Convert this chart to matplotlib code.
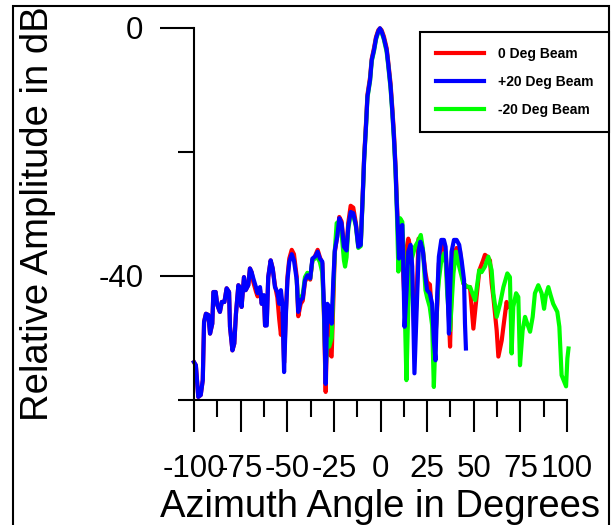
import matplotlib
matplotlib.use("Agg")
import matplotlib.pyplot as plt
from matplotlib.patches import Rectangle

plt.rcParams['font.family'] = ['Liberation Sans', 'DejaVu Sans']
plt.rcParams['axes.unicode_minus'] = False

# beam patterns (azimuth in degrees, relative amplitude in dB)
blue_deg = [-100, -99, -97.7, -96.4, -95.3, -94.6, -93.6, -92.3, -91.4, -90.2,
            -89.6, -88.4, -87.5, -86.1, -85.1, -83.7, -82.5, -81.2, -80.7, -79.4,
            -78.4, -77.5, -76.2, -75.3, -74.5, -73.2, -72.3, -70.9, -70.0, -69.1,
            -68.2, -66.8, -65.9, -64.6, -63.7, -62.5, -61.9, -61.0, -60.2, -58.9,
            -57.8, -56.6, -55.3, -54.3, -53.4, -52.6, -51.7, -50.7, -49.9, -48.9,
            -47.6, -46.4, -44.9, -44.1, -42.8, -41.7, -40.5, -39.2, -37.7, -36.5,
            -35.1, -33.7, -32.5, -31.2, -30.3, -29.4, -28.5, -27.5, -26.2, -25.3,
            -24.5, -23.2, -22.1, -20.9, -19.6, -18.2, -17.3, -16.0, -14.6, -13.2,
            -11.9, -10.6, -9.6, -9.2, -8.8, -7.7, -7.0, -5.6, -4.7, -3.5,
            -2.4, -1.2, -0.3, 0.6, 1.8, 3.3, 4.1, 5.4, 6.3, 7.2,
            8.1, 8.7, 9.1, 9.9, 10.8, 11.7, 12.2, 12.9, 14.0, 14.9,
            16.1, 17.0, 18.2, 19.3, 20.5, 21.4, 22.7, 24.1, 25.0, 26.4,
            27.7, 28.6, 29.5, 30.4, 31.3, 32.6, 34.0, 34.9, 35.8, 36.7,
            37.3, 38.1, 39.4, 40.8, 42.2, 43.5, 44.8, 45.3, 45.8]
blue_db = [-53.9, -54.4, -59.5, -59.2, -56.8, -47.4, -46.1, -46.3, -49.3, -47.7,
           -42.6, -42.6, -44.7, -45.8, -44.2, -44.2, -42.0, -42.6, -48.2, -52.0,
           -50.9, -46.1, -41.5, -42.0, -45.0, -40.2, -42.3, -41.5, -38.8, -39.4,
           -40.4, -41.8, -42.8, -41.8, -44.5, -43.1, -48.0, -48.0, -40.2, -37.5,
           -38.8, -41.8, -42.6, -44.5, -42.3, -44.5, -55.5, -46.1, -40.7, -37.7,
           -36.5, -37.5, -40.7, -45.8, -43.9, -43.6, -40.7, -39.9, -40.4, -37.2,
           -36.9, -36.1, -37.2, -37.7, -45.0, -57.4, -44.5, -45.0, -47.7, -40.7,
           -35.9, -33.7, -30.7, -31.5, -35.3, -35.9, -32.1, -29.7, -29.9, -31.8,
           -35.3, -35.0, -27.8, -24.6, -21.3, -15.4, -11.1, -8.4, -5.2, -3.6,
           -1.7, -0.6, -0.1, -0.6, -1.7, -3.6, -5.7, -9.5, -13.3, -17.6,
           -23.0, -28.3, -31.0, -37.2, -32.1, -31.8, -38.0, -48.2, -42.3, -36.1,
           -35.0, -38.5, -55.7, -46.1, -35.9, -34.5, -35.9, -40.2, -42.3, -42.8,
           -44.5, -50.4, -53.6, -43.4, -36.9, -34.2, -34.2, -35.3, -40.7, -49.3,
           -42.3, -36.1, -34.2, -34.2, -35.0, -37.5, -40.7, -47.7, -51.7]

red_deg = [-100, -99, -97.7, -96.4, -95.3, -94.6, -93.6, -92.3, -91.4, -90.2,
           -89.6, -88.4, -87.5, -86.1, -85.1, -83.7, -82.5, -81.2, -80.7, -79.4,
           -78.4, -77.5, -76.2, -75.3, -74.5, -73.2, -72.3, -70.9, -70.0, -69.1,
           -68.2, -66.8, -65.9, -64.6, -63.7, -62.5, -61.9, -61.0, -60.2, -58.9,
           -57.8, -56.6, -55.3, -54.3, -53.4, -52.6, -51.7, -50.7, -49.9, -48.9,
           -47.6, -46.4, -44.9, -44.1, -42.8, -41.7, -40.5, -39.2, -37.7, -36.5,
           -35.1, -33.7, -32.5, -31.2, -30.3, -29.4, -28.5, -27.5, -26.2, -25.3,
           -24.5, -23.2, -22.1, -20.9, -19.6, -18.2, -17.3, -16.0, -14.6, -13.2,
           -11.9, -10.6, -9.6, -9.2, -8.8, -7.7, -7.0, -5.6, -4.7, -3.5,
           -2.4, -1.2, -0.3, 0.6, 1.8, 3.3, 4.1, 5.4, 6.3, 7.2,
           8.1, 8.7, 9.1, 9.9, 10.8, 11.7, 12.2, 12.9, 14.0, 14.9,
           16.1, 17.0, 18.2, 19.3, 20.4, 21.4, 22.7, 24.1, 25.0, 26.5,
           28.0, 29.2, 30.4, 31.3, 32.6, 34.0, 35.0, 35.8, 36.7, 37.3,
           38.1, 39.4, 40.8, 42.6, 44.4, 46.5, 48.0, 49.8, 51.5, 53.0,
           55.0, 56.0, 57.2, 58.7, 59.6, 60.5, 62.3, 63.2, 65.0, 65.9,
           67.6, 68.5]
red_db = [-53.9, -54.4, -59.5, -59.2, -56.8, -47.4, -46.1, -46.3, -49.3, -47.7,
          -42.6, -42.6, -44.7, -45.8, -44.2, -44.2, -42.0, -42.6, -48.2, -52.0,
          -50.9, -46.1, -41.5, -42.0, -45.0, -40.2, -42.3, -41.5, -38.8, -39.4,
          -41.0, -42.5, -43.3, -42.2, -44.5, -43.6, -48.0, -47.5, -40.2, -37.5,
          -38.8, -41.5, -43.5, -47.0, -49.5, -46.0, -54.0, -45.5, -40.2, -37.2,
          -35.8, -36.5, -40.2, -46.5, -44.5, -44.0, -41.0, -40.0, -40.6, -37.4,
          -36.8, -35.8, -37.0, -38.0, -46.5, -58.7, -47.0, -52.5, -53.0, -44.0,
          -36.2, -33.5, -30.5, -31.2, -35.0, -35.6, -31.5, -28.7, -29.0, -31.5,
          -35.0, -34.8, -27.5, -24.3, -21.0, -15.0, -10.8, -8.0, -5.0, -3.3,
          -1.5, -0.4, -0.1, -0.4, -1.4, -3.3, -5.4, -9.0, -12.8, -17.0,
          -22.5, -27.5, -30.5, -36.0, -33.0, -33.5, -40.0, -44.0, -35.5, -34.0,
          -35.5, -40.0, -50.0, -44.0, -34.0, -34.5, -35.8, -39.5, -41.0, -41.4,
          -48.0, -51.4, -45.0, -38.0, -35.5, -35.0, -36.5, -41.0, -47.0, -51.4,
          -42.0, -36.5, -35.5, -35.9, -41.2, -41.8, -41.8, -48.5, -43.4, -39.1,
          -37.5, -36.6, -36.9, -37.5, -41.2, -43.4, -48.8, -53.0, -50.4, -48.2,
          -44.2, -45.0]

green_deg = [-44.9, -44.1, -42.8, -41.7, -40.5, -39.2, -37.7, -36.5, -35.1, -33.7,
             -32.5, -31.2, -30.3, -29.4, -28.5, -27.5, -26.2, -25.3, -24.5, -23.5,
             -22.1, -20.9, -19.6, -19.0, -18.2, -17.3, -16.0, -14.6, -13.2, -11.9,
             -10.6, -9.6, -9.2, -8.8, -7.7, -7.0, -5.6, -4.7, -3.5, -2.4,
             -1.2, -0.3, 0.6, 1.8, 3.3, 4.1, 5.4, 6.3, 7.2, 8.1,
             8.7, 9.6, 10.5, 11.7, 12.2, 13.9, 14.9, 16.1, 17.0, 18.5,
             20.0, 21.6, 22.7, 24.1, 25.0, 26.4, 27.7, 28.6, 29.5, 30.4,
             31.3, 32.6, 34.0, 35.0, 35.8, 37.3, 39.1, 40.5, 42.2, 44.4,
             46.2, 48.0, 50.7, 52.9, 54.2, 56.0, 57.8, 59.6, 60.5, 62.3,
             64.1, 65.9, 68.0, 69.4, 70.3, 71.2, 72.7, 73.9, 74.8, 76.2,
             77.5, 78.7, 80.2, 81.6, 82.8, 84.6, 86.4, 87.7, 88.7, 90.0,
             91.2, 92.6, 94.8, 95.9, 97.1, 99.5, 100.2, 100.8]
green_db = [-40.7, -45.0, -43.5, -43.0, -40.2, -39.5, -40.4, -37.5, -37.2, -37.0,
            -37.8, -39.5, -46.0, -55.0, -50.0, -51.4, -50.0, -42.0, -36.0, -31.5,
            -31.2, -33.0, -37.5, -38.5, -37.0, -32.5, -30.0, -30.2, -32.0, -35.5,
            -35.2, -28.0, -24.8, -21.5, -15.6, -11.3, -8.6, -5.4, -3.8, -1.9,
            -0.7, -0.2, -0.7, -1.9, -3.9, -6.0, -9.8, -13.6, -18.0, -23.5,
            -28.8, -39.3, -30.7, -31.3, -35.0, -56.8, -45.0, -38.0, -37.0, -35.3,
            -34.5, -33.4, -35.5, -42.3, -43.5, -45.0, -48.0, -57.9, -49.8, -44.0,
            -40.7, -37.5, -36.4, -38.0, -43.0, -48.8, -39.6, -36.1, -38.5, -41.2,
            -41.7, -41.8, -43.9, -39.1, -39.4, -38.5, -36.9, -39.1, -42.8, -46.6,
            -44.5, -41.8, -39.6, -40.2, -52.5, -45.0, -42.8, -43.4, -54.4, -48.8,
            -46.6, -47.7, -49.0, -46.6, -42.8, -41.5, -42.8, -45.3, -43.1, -41.8,
            -43.1, -44.5, -45.8, -48.2, -56.0, -57.8, -53.3, -51.7]

x_ticks = [-100, -75, -50, -25, 0, 25, 50, 75, 100]
x_tick_labels = ['-100', '-75', '-50', '-25', '0', '25', '50', '75', '100']
x_minor = [-87.5, -62.5, -37.5, -12.5, 12.5, 37.5, 62.5, 87.5]
y_ticks = [0, -40]
y_tick_labels = ['0', '-40']
y_minor = [-20, -60]

W, H = 613, 525
fig = plt.figure(figsize=(W / 100, H / 100), dpi=100)
ax = fig.add_axes([194 / W, 1 - 400 / H, (567 - 194) / W, (400 - 27.7) / H])

l_red, = ax.plot(red_deg, red_db, color='#ff0000', lw=3, clip_on=False, label='0 Deg Beam')
l_green, = ax.plot(green_deg, green_db, color='#00ff00', lw=3, clip_on=False, label='-20 Deg Beam')
l_blue, = ax.plot(blue_deg, blue_db, color='#0000ff', lw=3, clip_on=False, label='+20 Deg Beam')

ax.set_xlim(-100, 100)
ax.set_ylim(-60, 0)
for s in ('top', 'right'):
    ax.spines[s].set_visible(False)
for s in ('left', 'bottom'):
    ax.spines[s].set_linewidth(1.5)

ax.set_xticks(x_ticks)
ax.set_xticklabels(x_tick_labels)
ax.set_xticks(x_minor, minor=True)
ax.set_yticks(y_ticks)
ax.set_yticklabels(y_tick_labels)
ax.set_yticks(y_minor, minor=True)
ax.tick_params(axis='x', which='major', length=23, width=1.5, pad=16, labelsize=22.5)
ax.tick_params(axis='x', which='minor', length=12, width=1.5)
ax.tick_params(axis='y', which='major', length=24.5, width=1.5, pad=12, labelsize=22.5)
ax.tick_params(axis='y', which='minor', length=11.5, width=1.5)

ax.set_xlabel('Azimuth Angle in Degrees', fontsize=27.5)
ax.xaxis.set_label_coords(0.5, -0.24)
ax.set_ylabel('Relative Amplitude in dB', fontsize=27.5)
ax.yaxis.set_label_coords(-0.37, 0.5)

leg = fig.legend(handles=[l_red, l_blue, l_green], loc='upper right',
                 bbox_to_anchor=(609 / W, 1 - 32 / H), borderaxespad=0,
                 prop={'weight': 'bold', 'size': 10}, handlelength=3.5,
                 handletextpad=1.0, labelspacing=1.0, borderpad=1.1,
                 fancybox=False, framealpha=1, edgecolor='black')
leg.get_frame().set_linewidth(1.5)

# outer frame
fig.patches.append(Rectangle((13 / W, -0.1), (609 - 13) / W, 1.1 - 6 / H,
                             fill=False, lw=1.5, edgecolor='black',
                             transform=fig.transFigure, figure=fig))

fig.savefig('out.png', dpi=100)
